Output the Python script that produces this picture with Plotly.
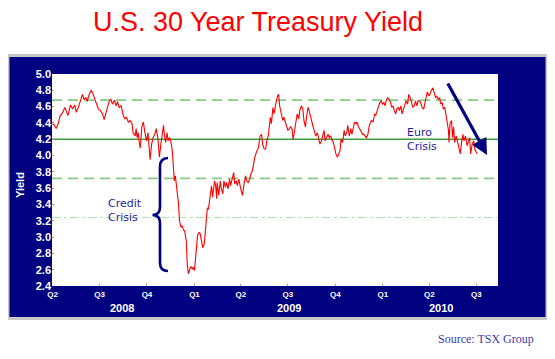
import plotly.graph_objects as go

# ---------------- data ----------------
dates = [
    # 2008
    "2008-04-01", "2008-04-05", "2008-04-08", "2008-04-12", "2008-04-16", "2008-04-20", "2008-04-25", "2008-04-28",
    "2008-05-01", "2008-05-06", "2008-05-10", "2008-05-14", "2008-05-17", "2008-05-21", "2008-05-25", "2008-05-29",
    "2008-06-01", "2008-06-05", "2008-06-07", "2008-06-11", "2008-06-15", "2008-06-19", "2008-06-22", "2008-06-25",
    "2008-06-29", "2008-07-03", "2008-07-07", "2008-07-10", "2008-07-13", "2008-07-17", "2008-07-20", "2008-07-23",
    "2008-07-26", "2008-07-30", "2008-08-02", "2008-08-05", "2008-08-08", "2008-08-12", "2008-08-16", "2008-08-19",
    "2008-08-22", "2008-08-26", "2008-08-29", "2008-09-02", "2008-09-04", "2008-09-08", "2008-09-10", "2008-09-12",
    "2008-09-14", "2008-09-16", "2008-09-18", "2008-09-21", "2008-09-24", "2008-09-27", "2008-09-30", "2008-10-03",
    "2008-10-05", "2008-10-07", "2008-10-10", "2008-10-13", "2008-10-17", "2008-10-19", "2008-10-22", "2008-10-25",
    "2008-10-28", "2008-10-31", "2008-11-02",
    "2008-11-04", "2008-11-06", "2008-11-09", "2008-11-11", "2008-11-14", "2008-11-16", "2008-11-19", "2008-11-22",
    "2008-11-23", "2008-11-25", "2008-11-28", "2008-12-01", "2008-12-03", "2008-12-06", "2008-12-08", "2008-12-11",
    "2008-12-13", "2008-12-16", "2008-12-18", "2008-12-20", "2008-12-22", "2008-12-25", "2008-12-28", "2008-12-30",
    # 2009
    "2009-01-01", "2009-01-03", "2009-01-05", "2009-01-07", "2009-01-10", "2009-01-12", "2009-01-15", "2009-01-17",
    "2009-01-20", "2009-01-23", "2009-01-24", "2009-01-26", "2009-01-28", "2009-01-30", "2009-02-01", "2009-02-03",
    "2009-02-05", "2009-02-07", "2009-02-09", "2009-02-11", "2009-02-13", "2009-02-14", "2009-02-17", "2009-02-20",
    "2009-02-22", "2009-02-25", "2009-02-27", "2009-03-02", "2009-03-04", "2009-03-07", "2009-03-10", "2009-03-12",
    "2009-03-15", "2009-03-18", "2009-03-20", "2009-03-23", "2009-03-25", "2009-03-28", "2009-03-31", "2009-04-02",
    "2009-04-04", "2009-04-07", "2009-04-10", "2009-04-12", "2009-04-15", "2009-04-18", "2009-04-20", "2009-04-23",
    "2009-04-25", "2009-04-28", "2009-05-01", "2009-05-03", "2009-05-05", "2009-05-08", "2009-05-11", "2009-05-13",
    "2009-05-16", "2009-05-19", "2009-05-21", "2009-05-24", "2009-05-26", "2009-05-28", "2009-05-30", "2009-06-02",
    "2009-06-04", "2009-06-06", "2009-06-08", "2009-06-11",
    "2009-06-13", "2009-06-15", "2009-06-18", "2009-06-21", "2009-06-23", "2009-06-26", "2009-06-29", "2009-07-01",
    "2009-07-04", "2009-07-06", "2009-07-09", "2009-07-11", "2009-07-14", "2009-07-17", "2009-07-19", "2009-07-22",
    "2009-07-24", "2009-07-27", "2009-07-30", "2009-08-01", "2009-08-04", "2009-08-06", "2009-08-09", "2009-08-11",
    "2009-08-14", "2009-08-17", "2009-08-19", "2009-08-22", "2009-08-24", "2009-08-27", "2009-08-30", "2009-09-01",
    "2009-09-04", "2009-09-06", "2009-09-09", "2009-09-11", "2009-09-14", "2009-09-17", "2009-09-19", "2009-09-22",
    "2009-09-24", "2009-09-27", "2009-09-30", "2009-10-02", "2009-10-05", "2009-10-07", "2009-10-10", "2009-10-12",
    "2009-10-15", "2009-10-18", "2009-10-20", "2009-10-23", "2009-10-25", "2009-10-28", "2009-10-31", "2009-11-02",
    "2009-11-05", "2009-11-07", "2009-11-10", "2009-11-12", "2009-11-15", "2009-11-18", "2009-11-20", "2009-11-23",
    "2009-11-25", "2009-11-28", "2009-11-30", "2009-12-03", "2009-12-05", "2009-12-08", "2009-12-10", "2009-12-13",
    "2009-12-16", "2009-12-18", "2009-12-21", "2009-12-23", "2009-12-26", "2009-12-29", "2009-12-31",
    # 2010
    "2010-01-03", "2010-01-05", "2010-01-08", "2010-01-10", "2010-01-13", "2010-01-16",
    "2010-01-18", "2010-01-21", "2010-01-23", "2010-01-26", "2010-01-28", "2010-01-31", "2010-02-02", "2010-02-05",
    "2010-02-07", "2010-02-10", "2010-02-12", "2010-02-15", "2010-02-18", "2010-02-20", "2010-02-23", "2010-02-25",
    "2010-02-28", "2010-03-03", "2010-03-05", "2010-03-08", "2010-03-10", "2010-03-13", "2010-03-15", "2010-03-18",
    "2010-03-21", "2010-03-23", "2010-03-26", "2010-03-28", "2010-03-31", "2010-04-02", "2010-04-05", "2010-04-08",
    "2010-04-10", "2010-04-13", "2010-04-15", "2010-04-18", "2010-04-21", "2010-04-23", "2010-04-26", "2010-04-28",
    "2010-05-01", "2010-05-03", "2010-05-06", "2010-05-08", "2010-05-09", "2010-05-11", "2010-05-14", "2010-05-16",
    "2010-05-18", "2010-05-20", "2010-05-23", "2010-05-25", "2010-05-28", "2010-05-31", "2010-06-02", "2010-06-05",
    "2010-06-07", "2010-06-10", "2010-06-13", "2010-06-15", "2010-06-18", "2010-06-20", "2010-06-23", "2010-06-26",
    "2010-06-28", "2010-07-01", "2010-07-03",
]

yields = [
    # 2008
    4.39, 4.37, 4.33, 4.39, 4.49, 4.52, 4.59, 4.55,
    4.49, 4.62, 4.57, 4.62, 4.53, 4.59, 4.66, 4.75,
    4.69, 4.71, 4.66, 4.75, 4.80, 4.75, 4.69, 4.63,
    4.57, 4.55, 4.51, 4.44, 4.52, 4.61, 4.67, 4.69,
    4.63, 4.68, 4.61, 4.66, 4.59, 4.61, 4.49, 4.45,
    4.47, 4.41, 4.43, 4.39, 4.28, 4.24, 4.33, 4.22,
    4.28, 4.16, 4.09, 4.35, 4.41, 4.28, 4.18, 4.28,
    4.12, 3.95, 4.14, 4.22, 4.28, 4.33, 4.22, 3.98,
    4.14, 4.28, 4.37,
    4.24, 4.16, 4.28, 4.18, 4.22, 4.18, 4.06, 3.81,
    3.69, 3.75, 3.57, 3.41, 3.20, 3.12, 3.14, 3.08,
    3.08, 2.96, 2.67, 2.55, 2.59, 2.64, 2.61, 2.63,
    # 2009
    2.59, 2.71, 2.83, 3.02, 3.06, 3.04, 2.94, 2.87,
    2.92, 3.12, 3.28, 3.36, 3.34, 3.45, 3.59, 3.63,
    3.49, 3.61, 3.69, 3.63, 3.47, 3.67, 3.51, 3.69,
    3.59, 3.53, 3.69, 3.61, 3.67, 3.59, 3.71, 3.63,
    3.71, 3.79, 3.65, 3.69, 3.63, 3.71, 3.61, 3.55,
    3.51, 3.65, 3.75, 3.69, 3.67, 3.71, 3.77, 3.81,
    3.90, 3.98, 4.04, 4.08, 4.10, 4.24, 4.26, 4.14,
    4.08, 4.08, 4.18, 4.24, 4.35, 4.47, 4.39, 4.59,
    4.51, 4.61, 4.65, 4.73,
    4.75, 4.61, 4.53, 4.43, 4.47, 4.41, 4.33, 4.31,
    4.33, 4.35, 4.33, 4.20, 4.31, 4.43, 4.51, 4.45,
    4.55, 4.61, 4.57, 4.43, 4.35, 4.47, 4.59, 4.55,
    4.47, 4.37, 4.35, 4.28, 4.24, 4.28, 4.20, 4.14,
    4.18, 4.24, 4.31, 4.18, 4.22, 4.26, 4.22, 4.24,
    4.20, 4.16, 4.08, 4.02, 3.98, 4.02, 4.06, 4.20,
    4.16, 4.31, 4.24, 4.28, 4.37, 4.24, 4.33, 4.26,
    4.35, 4.41, 4.39, 4.41, 4.35, 4.31, 4.28, 4.26,
    4.26, 4.24, 4.22, 4.26, 4.35, 4.41, 4.43, 4.41,
    4.51, 4.49, 4.55, 4.61, 4.65, 4.67, 4.63,
    # 2010
    4.65, 4.61, 4.68, 4.71, 4.69, 4.65,
    4.59, 4.61, 4.55, 4.51, 4.57, 4.59, 4.55, 4.61,
    4.51, 4.57, 4.63, 4.67, 4.63, 4.75, 4.71, 4.65,
    4.59, 4.61, 4.67, 4.61, 4.67, 4.67, 4.65, 4.59,
    4.57, 4.63, 4.73, 4.78, 4.73, 4.75, 4.80, 4.83,
    4.78, 4.71, 4.73, 4.69, 4.71, 4.63, 4.65, 4.57,
    4.59, 4.49, 4.41, 4.31, 4.16, 4.39, 4.43, 4.22,
    4.35, 4.16, 4.24, 4.18, 4.10, 4.02, 4.14, 4.26,
    4.18, 4.24, 4.12, 4.16, 4.22, 4.02, 4.14, 4.18,
    4.08, 4.04, 4.02,
]

quarter_ticks = ["2008-04-01", "2008-07-01", "2008-10-01", "2009-01-01", "2009-04-01",
                 "2009-07-01", "2009-10-01", "2010-01-01", "2010-04-01", "2010-07-01"]
quarter_labels = ["Q2", "Q3", "Q4", "Q1", "Q2", "Q3", "Q4", "Q1", "Q2", "Q3"]
years = ["2008", "2009", "2010"]

mean_level = 4.20          # solid green
band_levels = [4.68, 3.72]  # dashed green
lower2_level = 3.24         # dash-dot pale green

x_range = ["2008-03-31", "2010-08-12"]
y_range = [2.4, 5.0]

# ---------------- layout helpers ----------------
# The page body adds an 8px offset, so the figure is drawn 8px smaller/shifted.
OFF = 8
W_FIG, H_FIG = 555 - OFF, 359 - OFF
PL, PR, PT, PB = 52, 498, 74, 286   # plot area in page pixels
PW, PH = PR - PL, PB - PT


def fx(p):
    return (p - PL) / PW


def fy(p):
    return (PB - p) / PH


NAVY = "#000080"
TEXT_BLUE = "#1e1e9c"

fig = go.Figure()

# reference lines (drawn as traces so they sit under the yield line)
fig.add_trace(go.Scatter(x=x_range, y=[lower2_level] * 2, mode="lines",
                         line=dict(color="#b4e2b4", width=1, dash="dashdot"),
                         hoverinfo="skip", showlegend=False))
for lvl in band_levels:
    fig.add_trace(go.Scatter(x=x_range, y=[lvl] * 2, mode="lines",
                             line=dict(color="#86cc86", width=1.6, dash="10px,6px"),
                             hoverinfo="skip", showlegend=False))
fig.add_trace(go.Scatter(x=x_range, y=[mean_level] * 2, mode="lines",
                         line=dict(color="#3f9e3f", width=1.3),
                         hoverinfo="skip", showlegend=False))

fig.add_trace(go.Scatter(x=dates, y=yields, mode="lines",
                         line=dict(color="#ff0000", width=1.1),
                         showlegend=False, name="Yield"))

shapes = [
    # grey outer frame
    dict(type="rect", xref="paper", yref="paper", layer="below",
         x0=fx(7), x1=fx(548), y0=fy(320), y1=fy(54),
         fillcolor="#c8c8c8", line=dict(width=0)),
    # navy panel
    dict(type="rect", xref="paper", yref="paper", layer="below",
         x0=fx(9.5), x1=fx(545.5), y0=fy(317), y1=fy(57),
         fillcolor=NAVY, line=dict(width=0)),
    # white plot area
    dict(type="rect", xref="paper", yref="paper", layer="below",
         x0=0, x1=1, y0=0, y1=1, fillcolor="white", line=dict(width=0)),
]

# curly brace for "Credit Crisis"
brace_pts = ("M {a},{b} Q {c},{b} {c},{d} L {c},{e} Q {c},{f} {g},{f} "
             "Q {c},{f} {c},{h} L {c},{i} Q {c},{j} {a},{j}")
brace = brace_pts.format(a=fx(168), b=fy(158), c=fx(160), d=fy(167), e=fy(207),
                         f=fy(215), g=fx(152.5), h=fy(223), i=fy(263), j=fy(271))
shapes.append(dict(type="path", xref="paper", yref="paper", path=brace,
                   line=dict(color=NAVY, width=2.6), layer="above"))

annotations = []
# year labels under quarters
for yr, px in zip(years, [122, 289, 441]):
    annotations.append(dict(text="<b>%s</b>" % yr, xref="paper", yref="paper",
                            x=fx(px), y=fy(308), xanchor="center", yanchor="middle", showarrow=False,
                            font=dict(family="Liberation Sans, Arial, sans-serif", size=11, color="white")))
# y axis title
annotations.append(dict(text="<b>Yield</b>", xref="paper", yref="paper", x=fx(20), y=fy(185),
                        xanchor="center", yanchor="middle", textangle=-90, showarrow=False,
                        font=dict(family="Liberation Sans, Arial, sans-serif", size=11, color="white")))
# crisis labels
annotations.append(dict(text="Credit<br>Crisis", xref="paper", yref="paper", x=fx(106), y=fy(210),
                        xanchor="left", yanchor="middle", align="left", showarrow=False,
                        font=dict(family="DejaVu Sans, Verdana, sans-serif", size=11, color=TEXT_BLUE)))
annotations.append(dict(text="Euro<br>Crisis", xref="paper", yref="paper", x=fx(405), y=fy(139),
                        xanchor="left", yanchor="middle", align="left", showarrow=False,
                        font=dict(family="DejaVu Sans, Verdana, sans-serif", size=11, color=TEXT_BLUE)))
# downward arrow
annotations.append(dict(text="", xref="paper", yref="paper", x=fx(487), y=fy(155),
                        ax=447 - 487, ay=82 - 155, axref="pixel", ayref="pixel",
                        showarrow=True, arrowhead=2, arrowsize=1, arrowwidth=3.2, arrowcolor=NAVY))
# source
annotations.append(dict(text="Source: TSX Group", xref="paper", yref="paper", x=fx(536), y=fy(339),
                        xanchor="right", yanchor="middle", showarrow=False,
                        font=dict(family="Liberation Serif, Times New Roman, serif", size=12, color="#3a3ab0")))

fig.update_layout(
    width=W_FIG, height=H_FIG,
    margin=dict(l=PL - OFF, r=W_FIG - (PR - OFF), t=PT - OFF, b=H_FIG - (PB - OFF), pad=0),
    paper_bgcolor="white",
    plot_bgcolor="rgba(0,0,0,0)",
    title=dict(text="U.S. 30 Year Treasury Yield", xref="container", yref="container",
               x=(258 - OFF) / W_FIG, y=1 - (22 - OFF) / H_FIG, xanchor="center", yanchor="middle",
               font=dict(family="Liberation Sans, Arial, sans-serif", size=27, color="#ff0000")),
    xaxis=dict(type="date", range=x_range, tickmode="array", tickvals=quarter_ticks, ticktext=quarter_labels,
               showgrid=False, zeroline=False, showline=False,
               ticks="inside", ticklen=2, tickcolor="#9a9a9a", ticklabelstandoff=2,
               tickfont=dict(family="Liberation Sans, Arial, sans-serif", size=8, color="white", weight="bold")),
    yaxis=dict(range=y_range, dtick=0.2, tick0=2.4, tickformat=".1f",
               showgrid=False, zeroline=False, showline=False,
               ticks="inside", ticklen=2, tickcolor="#9a9a9a",
               tickfont=dict(family="Liberation Sans, Arial, sans-serif", size=11, color="white", weight="bold")),
    shapes=shapes,
    annotations=annotations,
    showlegend=False,
)

fig.write_html("out.html", config={"displayModeBar": False})
